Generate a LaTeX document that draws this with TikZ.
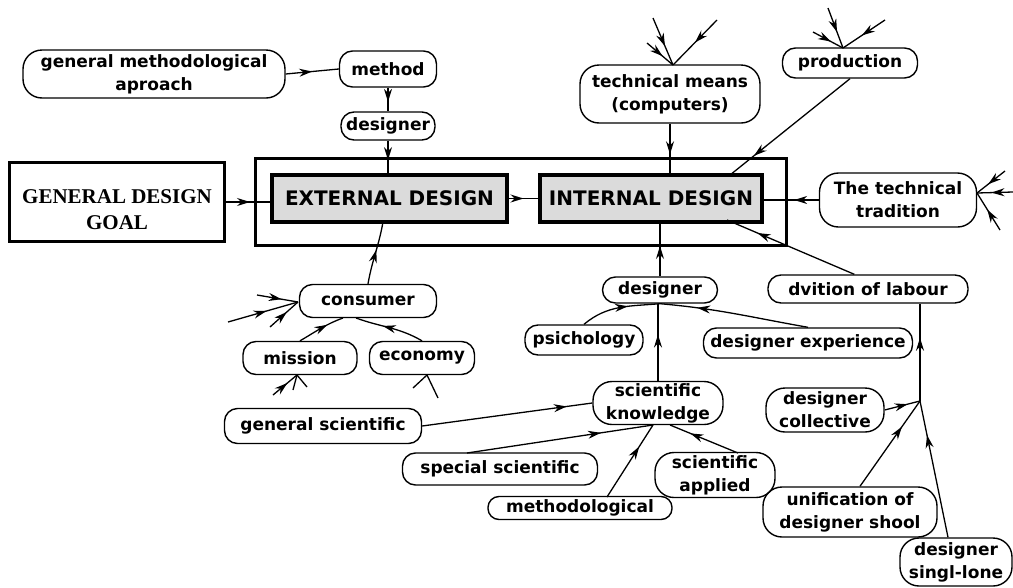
\documentclass[tikz,border=0pt]{standalone}
\usepackage{fontspec}
\setmainfont{DejaVu Sans}
\newfontfamily\goalfont{Liberation Serif}
\usetikzlibrary{arrows.meta,decorations.markings,calc}
\tikzset{
  lbl/.style={draw, line width=1.4pt, rounded corners=13pt, inner sep=0pt, align=center,
              font=\bfseries\fontsize{17}{23}\selectfont},
  tall/.style={rounded corners=19pt},
  dbox/.style={draw, line width=4pt, fill=gray!28, inner sep=0pt,
               font=\bfseries\fontsize{20}{22}\selectfont},
  conn/.style={line width=1.3pt},
  arrowat/.style={postaction={decorate}, decoration={markings,
      mark=at position #1 with {\arrow{Stealth[length=13pt,width=8pt]}}}},
}
\begin{document}
\begin{tikzpicture}[x=1pt,y=-1pt]
\useasboundingbox (0,0) rectangle (1013,587);

% ---------- central boxes ----------
\node[draw, line width=3pt, minimum width=531pt, minimum height=87pt, inner sep=0pt] (outer) at (520.5,201.5) {};
\node[dbox, minimum width=235pt, minimum height=47pt] (ext) at (389.5,198.5) {EXTERNAL DESIGN};
\node[dbox, minimum width=222pt, minimum height=47pt] (int) at (651,198.5) {INTERNAL DESIGN};
\node[draw, line width=2.2pt, minimum width=215pt, minimum height=79pt, inner sep=0pt] (goal) at (117,202) {};
\node[inner sep=0pt, align=center, font=\goalfont\bfseries\fontsize{21}{26}\selectfont] (goaltext) at (117,210) {GENERAL DESIGN\\GOAL};

% ---------- top left ----------
\node[lbl, tall, minimum width=262pt, minimum height=48pt] (gma) at (154,74) {general methodological\\aproach};
\node[lbl, minimum width=97pt, minimum height=36pt] (method) at (388,69) {method};
\node[lbl, minimum width=94pt, minimum height=28pt] (des1) at (388,126) {designer};

% ---------- top right ----------
\node[lbl, tall, minimum width=180pt, minimum height=58pt] (tech) at (670,94) {technical means\\(computers)};
\node[lbl, minimum width=135pt, minimum height=30pt] (prod) at (850,63) {production};
\node[lbl, tall, minimum width=157pt, minimum height=54pt] (trad) at (898,200) {The technical\\tradition};

% ---------- lower left ----------
\node[lbl, minimum width=137pt, minimum height=33pt] (cons) at (368,301) {consumer};
\node[lbl, minimum width=114pt, minimum height=33pt] (miss) at (300,358) {mission};
\node[lbl, minimum width=105pt, minimum height=33pt] (econ) at (422,358) {economy};
\node[lbl, minimum width=197pt, minimum height=35pt] (gsci) at (323,426) {general scientific};

% ---------- lower middle ----------
\node[lbl, minimum width=115pt, minimum height=26pt] (des2) at (660,290) {designer};
\node[lbl, minimum width=118pt, minimum height=30pt] (psy) at (584,340) {psichology};
\node[lbl, minimum width=209pt, minimum height=30pt] (dexp) at (808,343) {designer experience};
\node[lbl, tall, minimum width=130pt, minimum height=43pt] (sk) at (658,403) {scientific\\knowledge};
\node[lbl, minimum width=195pt, minimum height=32pt] (ssci) at (500,469) {special scientific};
\node[lbl, minimum width=184pt, minimum height=23pt, rounded corners=11pt] (meth) at (580,508) {methodological};
\node[lbl, tall, minimum width=120pt, minimum height=45pt] (sapp) at (715,475) {scientific\\applied};

% ---------- lower right ----------
\node[lbl, minimum width=200pt, minimum height=28pt] (div) at (868,289) {dvition of labour};
\node[lbl, tall, minimum width=118pt, minimum height=44pt] (dcol) at (825,410) {designer\\collective};
\node[lbl, tall, minimum width=174pt, minimum height=50pt] (unif) at (850,512) {unification of\\designer shool};
\node[lbl, tall, minimum width=112pt, minimum height=48pt] (singl) at (956,562) {designer\\singl-lone};

% ---------- coordinates ----------
\coordinate (tmtop) at (673,65);
\coordinate (tm1) at (653,18);
\coordinate (tm2) at (647,43);
\coordinate (tm3) at (717,20);
\coordinate (prtop) at (843,48);
\coordinate (pr1) at (828,8);
\coordinate (pr2) at (813,32);
\coordinate (pr3) at (885,20);
\coordinate (trr) at (977,193);
\coordinate (tr1) at (1005,171);
\coordinate (tr2) at (1013,192);
\coordinate (tr3) at (1000,230);
\coordinate (cl) at (298,302);
\coordinate (cl1) at (228,322);
\coordinate (cl2) at (257,295);
\coordinate (cl3) at (270,327);
\coordinate (mb) at (297,375);
\coordinate (mb1) at (273,395);
\coordinate (mb2) at (293,390);
\coordinate (mb3) at (307,387);
\coordinate (eb) at (427,375);
\coordinate (eb1) at (413,388);
\coordinate (eb2) at (438,398);
\coordinate (J) at (920,401);

% ---------- connectors ----------
\draw[conn, arrowat=0.5] (gma.east) -- (method.west);
\draw[conn, arrowat=0.6] (method.south) -- (des1.north);
\draw[conn, arrowat=0.6] (des1.south) -- (des1.south |- ext.north);
\draw[conn, arrowat=0.55] (goal.east) -- (goal.east -| ext.west);
\draw[conn, arrowat=0.5] (ext.east) -- (int.west);

\draw[conn, arrowat=0.62] (tech.south) -- (tech.south |- int.north);
\draw[conn, arrowat=0.6] (tm1) -- (tmtop);
\draw[conn, arrowat=0.6] (tm2) -- (tmtop);
\draw[conn, arrowat=0.5] (tm3) -- (tmtop);

\draw[conn, arrowat=0.8] (prod.south) -- (730,175);
\draw[conn, arrowat=0.6] (pr1) -- (prtop);
\draw[conn, arrowat=0.6] (pr2) -- (prtop);
\draw[conn, arrowat=0.55] (pr3) -- (prtop);

\draw[conn, arrowat=0.45] (trad.west) -- (trad.west -| int.east);
\draw[conn, arrowat=0.6] (tr1) -- (trr);
\draw[conn, arrowat=0.6] (tr2) -- (trr);
\draw[conn, arrowat=0.55] (tr3) -- (trr);

\draw[conn, arrowat=0.76] (div.north west) ++(87,0) -- (727,220);
\draw[conn, arrowat=0.58] (des2.north) -- (des2.north |- int.south);

\draw[conn, arrowat=0.55] (cons.north) to[out=80,in=-100] (383,222);
\draw[conn, arrowat=0.55] (cl1) -- (cl);
\draw[conn, arrowat=0.6] (cl2) -- (cl);
\draw[conn, arrowat=0.6] (cl3) -- (cl);
\draw[conn, arrowat=0.65] (miss.north) to[out=30,in=-160] (343,318);
\draw[conn, arrowat=0.6] (econ.north) to[out=150,in=-20] (356,318);
\draw[conn, arrowat=0.6] (mb1) -- (mb);
\draw[conn] (mb2) -- (mb);
\draw[conn] (mb3) -- (mb);
\draw[conn] (eb1) -- (eb);
\draw[conn] (eb2) -- (eb);

\draw[conn, arrowat=0.6] (psy.north) to[out=40,in=-175] (des2.south);
\draw[conn, arrowat=0.75] (dexp.north) to[out=170,in=-5] (des2.south);
\draw[conn, arrowat=0.6] (sk.north) -- (sk.north |- des2.south);

\draw[conn, arrowat=0.85] (gsci.east) -- (sk.west);
\draw[conn, arrowat=0.72] (467,453) -- (653,425);
\draw[conn, arrowat=0.7] (607,497) -- (653,425);
\draw[conn, arrowat=0.7] (738,453) -- (670,425);

\draw[conn, arrowat=0.65] (dcol.east) -- (J);
\draw[conn, arrowat=0.7] (unif.north) ++(10,0) -- (J);
\draw[conn, arrowat=0.75] (singl.north) ++(-8,0) -- (J);
\draw[conn, arrowat=0.65] (J) -- (div.south -| J);
\end{tikzpicture}
\end{document}
